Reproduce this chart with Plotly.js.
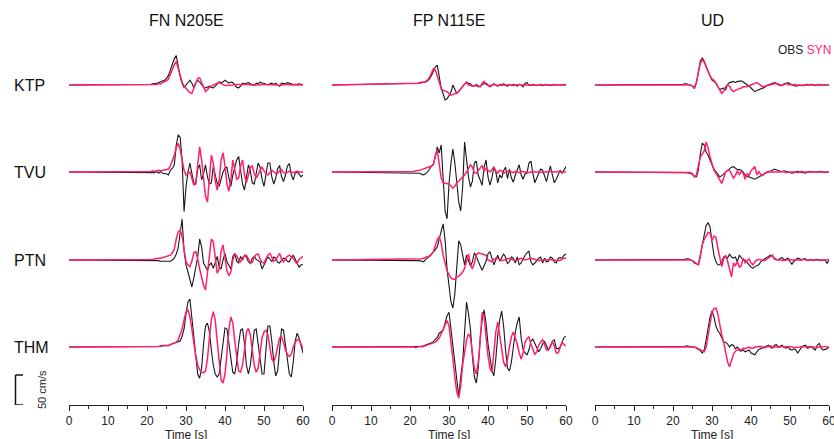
<!DOCTYPE html>
<html>
<head>
<meta charset="utf-8">
<script src="https://cdn.plot.ly/plotly-3.0.1.min.js"></script>
<style>html,body{margin:0;padding:0;background:#fff;}#chart{width:834px;height:439px;}</style>
</head>
<body>
<div id="chart"></div>
<script>
// ---------- DATA (cm/s), time grid: 0 s, then 20..60 s every 0.5 s ----------
const stations = ['KTP', 'TVU', 'PTN', 'THM'];
const components = ['FN N205E', 'FP N115E', 'UD'];
const xTicks = [0, 10, 20, 30, 40, 50, 60];
const xTitle = 'Time [s]';
const scaleBarValue = 50; // cm/s
const scaleBarLabel = '50 cm/s';

const t = [0];
for (let s = 20; s <= 60; s += 0.5) t.push(s);

const KTP_FN_OBS = [0,
 0,1,1,2,2,3,4,5,6,8,
 11,16,25,34,44,49,30,14,3,-4,
 0,5,8,3,-4,4,8,5,0,-4,
 -5,-3,-2,-4,-5,-2,1,5,4,5,
 8,6,3,5,4,0,-4,-5,-2,3,
 2,3,4,2,0,-1,3,2,5,3,
 3,1,0,2,3,1,3,0,-2,3,
 3,2,4,3,2,1,0,1,2,1,
 0];
const KTP_FN_SYN = [0,
 0,0,0,0,1,1,2,2,4,5,
 7,10,17,26,34,39,28,15,5,-2,
 -6,-10,-13,-14,-5,5,11,12,4,-5,
 -11,-8,-4,-2,0,1,3,4,2,0,
 -1,-1,-1,0,0,1,1,2,2,1,
 1,1,1,0,0,-1,-1,0,0,1,
 1,1,0,0,1,1,0,0,-1,0,
 0,1,1,0,0,0,1,0,0,0,
 0];
const TVU_FN_OBS = [0,
 0,0,0,0,-1,1,-2,1,-2,-3,
 -3,-5,3,6,12,45,62,58,20,-66,
 -25,0,15,-2,-18,-20,5,12,-13,-3,
 12,-8,-20,-18,9,-5,-18,-24,-12,0,
 6,8,-10,-24,-5,10,20,26,5,-20,
 -30,-5,12,2,-18,-20,-3,15,8,-12,
 -24,-5,15,15,-8,-20,-10,5,11,-8,
 -16,-5,10,14,-5,-13,-2,1,-3,-8,
 -5];
const TVU_FN_SYN = [0,
 0,1,1,2,1,2,3,2,3,4,
 4,5,10,18,28,40,48,38,20,3,
 -5,-3,0,-10,-22,-18,12,42,20,-15,
 -40,-50,-15,28,15,-15,-30,-15,20,32,
 10,-20,-32,-13,20,5,-12,-10,10,20,
 -5,-18,-5,8,10,-3,-10,-5,3,8,
 2,-3,-5,0,3,0,-2,-2,2,4,
 -1,-2,0,1,0,-1,0,1,0,0,
 0];
const PTN_FN_OBS = [0,
 0,0,0,0,0,-1,-1,-2,-2,-2,
 -2,-3,-2,0,3,10,20,45,68,15,
 -8,-20,-32,-45,-30,-12,5,35,22,-5,
 -11,-17,-8,-5,-14,-2,6,-12,-15,0,
 11,-3,-10,-15,6,11,-2,-5,6,0,
 8,5,-3,-6,3,6,1,-1,-3,-15,
 -8,0,5,2,-3,5,3,-4,-5,0,
 3,2,-2,-3,4,8,2,-4,-12,-8,
 -8];
const PTN_FN_SYN = [0,
 0,0,1,1,2,3,3,3,4,4,
 5,6,8,12,18,35,47,50,40,18,
 -3,-8,-11,-2,12,14,2,-15,-30,-42,
 -50,-20,15,35,30,5,-22,-15,15,25,
 5,-18,-26,-20,0,10,7,0,-3,4,
 6,8,2,-5,-4,5,9,10,2,-4,
 -5,2,8,11,3,-2,0,5,11,2,
 -3,2,6,8,5,3,-3,-6,1,4,
 6];
const THM_FN_OBS = [0,
 0,0,0,0,0,1,1,1,2,2,
 2,2,4,5,6,8,9,10,18,30,
 55,75,80,50,15,-20,-45,-52,-35,5,
 35,40,25,-5,-30,-45,-50,-45,-20,10,
 32,30,5,-25,-42,-45,-25,5,28,30,
 5,-30,-45,-30,0,28,30,5,-25,-45,
 -45,-10,35,35,10,-25,-48,-40,-5,30,
 28,5,-25,-45,-50,-25,10,23,15,0,
 -10];
const THM_FN_SYN = [0,
 0,0,0,1,1,1,1,2,2,2,
 2,3,4,5,6,8,12,20,30,45,
 58,62,50,30,5,-15,-30,-38,-42,-43,
 -40,-20,15,45,59,45,10,-30,-55,-60,
 -45,-10,30,50,40,10,-20,-40,-42,-30,
 -5,25,31,20,-5,-30,-42,-35,-10,15,
 25,28,20,0,-20,-25,-15,0,15,17,
 8,-5,-12,-16,-12,0,8,12,12,5,
 -3];

const KTP_FP_OBS = [0,
 2,2,2,3,3,3,4,4,5,7,
 10,16,22,30,33,15,-5,-15,-25,-23,
 -18,-12,0,-8,-14,-10,-6,-3,2,5,
 3,2,-2,-2,-1,-3,-3,1,2,3,
 0,-3,-1,2,0,-2,1,-1,2,0,
 -2,1,-1,1,0,-2,1,0,-3,3,
 4,0,-1,1,0,-1,1,0,-1,0,
 1,0,-1,0,1,0,0,-1,0,1,
 0];
const KTP_FP_SYN = [0,
 2,2,2,2,3,4,4,5,6,8,
 13,20,27,25,15,2,-6,-9,-10,-11,
 -14,-17,-16,-15,-13,-11,-6,-3,2,4,
 0,-1,-2,-1,1,-1,-3,3,6,1,
 -1,-2,0,1,0,-1,0,1,0,0,
 0,1,0,-1,0,0,1,0,0,1,
 0,0,1,0,-1,0,0,1,0,0,
 1,0,0,0,1,0,0,0,1,0,
 0];
const TVU_FP_OBS = [0,
 -1,-1,-1,-1,-2,-2,-4,-5,-3,0,
 5,10,14,25,42,32,45,-10,-65,-78,
 -20,15,38,15,-25,-50,-65,-25,50,20,
 -8,-25,-15,15,18,-5,-15,-22,8,20,
 -8,-22,-10,8,0,-18,-5,-10,2,8,
 -11,5,-10,-17,-5,5,12,-5,-12,-3,
 -2,15,18,-2,-18,-10,-2,5,3,-8,
 -16,-2,10,-5,-18,-12,-4,3,-2,4,
 9];
const TVU_FP_SYN = [0,
 0,1,1,2,2,3,4,5,6,7,
 9,10,12,28,36,14,-10,-18,-19,-19,
 -20,-23,-27,-24,-18,-15,-12,-9,-5,0,
 6,12,8,-1,-2,3,8,11,1,6,
 3,0,4,8,2,-2,3,2,-2,0,
 1,2,0,-1,1,0,-1,1,0,0,
 0,-1,0,1,0,0,1,0,-1,0,
 0,1,1,0,0,0,1,0,0,0,
 0];
const PTN_FP_OBS = [0,
 0,0,0,0,-1,-1,-2,-3,1,3,
 7,10,14,17,22,33,48,60,33,-15,
 -40,-70,-80,-56,-11,32,25,5,-8,8,
 0,-10,-3,12,6,-3,-10,-17,-10,-2,
 10,14,3,-8,0,8,-2,5,10,5,
 -6,-3,5,3,-5,5,-8,-5,3,8,
 12,15,-3,-8,-5,0,3,5,-5,3,
 -3,-2,5,3,-3,-5,3,4,3,8,
 10];
const PTN_FP_SYN = [0,
 1,1,1,1,1,1,2,3,5,6,
 6,9,14,24,34,39,28,8,-8,-18,
 -24,-30,-32,-32,-28,-27,-24,-20,-14,-2,
 10,-8,-15,-5,8,12,11,11,10,8,
 0,-2,-3,1,3,3,1,-1,0,0,
 2,3,1,0,-1,0,2,3,1,0,
 1,2,3,2,1,0,-1,0,0,-1,
 0,1,1,0,0,-1,-1,-1,1,3,
 3];
const THM_FP_OBS = [0,
 0,0,0,0,1,1,1,2,3,4,
 6,7,9,12,16,23,26,28,40,52,
 58,30,5,-25,-55,-82,-50,-25,25,75,
 55,30,-15,-50,-60,-35,15,45,62,40,
 5,-16,-38,-48,-20,20,45,60,35,-5,
 -35,-40,-25,0,25,40,50,15,-5,-10,
 -13,-5,10,13,5,-3,-8,-3,5,9,
 3,-5,0,10,12,-2,-3,0,8,16,
 18];
const THM_FP_SYN = [0,
 0,1,0,-1,0,1,0,1,2,3,
 4,5,6,8,11,15,22,30,37,44,
 35,10,-20,-50,-75,-85,-65,-30,-5,12,
 22,15,-10,-35,-45,-25,10,58,50,15,
 -15,-35,-42,-10,25,42,20,-5,-25,-33,
 -20,0,17,25,15,5,-10,-20,-10,8,
 14,17,5,-5,-12,-8,3,8,12,4,
 -5,-5,3,9,2,-10,-10,-2,8,4,
 2];

const KTP_UD_OBS = [0,
 0,0,0,0,1,1,2,2,0,0,
 -2,-6,3,20,40,45,40,30,22,14,
 8,6,3,-3,-8,-6,-5,-8,1,4,
 5,6,4,6,6,7,5,3,1,-2,
 -5,-8,-11,-9,-8,-7,-5,-4,-1,0,
 2,3,4,3,1,0,-1,2,3,4,
 2,0,-1,-2,-1,0,0,-1,0,1,
 0,1,0,-1,0,1,0,0,-1,0,
 0];
const KTP_UD_SYN = [0,
 0,0,0,0,0,1,1,1,0,0,
 -2,-4,5,20,36,42,38,31,22,15,
 10,8,3,-3,-8,-14,-10,-3,0,-2,
 -8,-11,-9,-7,-6,-5,-3,-3,-3,-2,
 0,1,3,4,2,0,-3,-2,-1,0,
 1,2,2,2,0,-1,0,1,2,1,
 0,0,1,0,0,0,-1,0,0,0,
 0,0,1,0,0,0,0,0,0,0,
 0];
const TVU_UD_OBS = [0,
 0,0,0,0,0,0,-1,-1,-2,-2,
 -4,-8,-8,3,30,48,45,33,28,18,
 12,5,0,-5,-8,-6,-3,0,2,6,
 8,9,6,4,4,3,0,-5,-7,-8,
 -10,-11,-12,-10,-8,-6,-4,-3,-1,0,
 1,3,5,4,3,2,0,2,1,-1,
 -2,-2,-1,0,1,0,-1,-1,-2,0,
 1,0,0,-1,0,1,0,-1,-1,0,
 0];
const TVU_UD_SYN = [0,
 0,0,0,0,0,0,0,-1,-1,-1,
 -3,-8,-5,12,25,30,35,50,40,25,
 12,3,-2,-8,-15,-19,-10,0,3,3,
 -3,-10,-6,2,-5,1,-2,-12,-3,-6,
 2,6,9,-5,1,-4,-6,-2,0,1,
 0,0,-1,0,-1,0,1,0,-1,0,
 0,1,0,0,-1,0,1,0,0,0,
 0,0,1,0,0,0,0,1,0,0,
 0];
const PTN_UD_OBS = [0,
 0,0,0,0,0,1,1,2,2,0,
 -1,-5,-7,-8,8,25,45,58,62,55,
 30,8,-3,-8,-8,-3,5,6,3,10,
 5,3,5,-3,8,3,0,0,-5,-8,
 -12,-14,-11,-10,-8,-3,0,2,4,6,
 8,7,3,1,0,3,4,0,2,3,
 -3,-7,-2,0,3,2,0,2,2,-1,
 0,1,-1,0,1,0,-1,0,0,-6,
 0];
const PTN_UD_SYN = [0,
 0,0,0,0,0,0,0,1,1,0,
 -1,-3,-6,-8,5,25,34,39,46,45,
 33,40,38,20,5,-11,2,8,-2,-14,
 -28,-5,-10,-2,-12,-10,3,-5,-2,2,
 -5,-8,-3,0,1,1,0,-1,1,3,
 6,8,1,0,0,0,-1,-1,0,1,
 1,0,0,-1,-1,0,0,1,0,0,
 0,0,-1,0,0,-1,0,0,0,0,
 1];
const THM_UD_OBS = [0,
 0,0,0,0,0,1,1,2,1,1,
 0,0,-2,-3,-6,-10,-5,12,30,50,
 60,50,35,27,23,15,8,8,5,0,
 4,3,-3,0,-6,-7,-5,-8,-6,-5,
 -10,-12,-13,-8,-4,-3,0,0,2,3,
 -1,-2,3,4,0,2,3,-1,-2,0,
 -4,-5,-3,-5,-10,-5,0,2,3,-2,
 0,1,-3,-5,3,6,-2,-5,-4,-3,
 0];
const THM_UD_SYN = [0,
 0,0,0,0,0,0,0,1,1,0,
 0,0,-1,-3,-5,-7,-8,0,18,42,
 58,64,65,55,34,20,8,-8,-25,-33,
 -22,-12,-7,-5,-3,-5,-2,-3,-2,0,
 -2,-2,0,0,1,1,-2,-1,0,2,
 2,0,0,-1,-1,0,1,0,1,1,
 0,0,-1,-1,0,0,1,0,0,1,
 1,0,0,-1,0,0,0,1,1,0,
 0];

// ---------- assemble ----------
const OBS = {
  KTP: [KTP_FN_OBS, KTP_FP_OBS, KTP_UD_OBS],
  TVU: [TVU_FN_OBS, TVU_FP_OBS, TVU_UD_OBS],
  PTN: [PTN_FN_OBS, PTN_FP_OBS, PTN_UD_OBS],
  THM: [THM_FN_OBS, THM_FP_OBS, THM_UD_OBS]
};
const SYN = {
  KTP: [KTP_FN_SYN, KTP_FP_SYN, KTP_UD_SYN],
  TVU: [TVU_FN_SYN, TVU_FP_SYN, TVU_UD_SYN],
  PTN: [PTN_FN_SYN, PTN_FP_SYN, PTN_UD_SYN],
  THM: [THM_FN_SYN, THM_FP_SYN, THM_UD_SYN]
};

const W = 834, Hh = 439;
const OBS_COLOR = '#161616';
const SYN_COLOR = '#ff1f6e';
const FONT = 'Liberation Sans, Arial, Helvetica, sans-serif';

const colPx = [[69, 303], [332, 566], [595, 829]];
const rowBasePx = [85, 172, 260, 347];
const halfPx = 58;            // half height of each row panel in px
const pxPerUnit = 30 / 50;    // 50 cm/s -> 30 px
const R = halfPx / pxPerUnit; // half range in cm/s

const traces = [];
stations.forEach((st, r) => {
  components.forEach((cp, c) => {
    const xa = c === 0 ? 'x' : 'x' + (c + 1);
    const ya = r === 0 ? 'y' : 'y' + (r + 1);
    [[OBS[st][c], OBS_COLOR, 1.1, 'OBS'], [SYN[st][c], SYN_COLOR, 1.5, 'SYN']].forEach(([arr, col, w, nm]) => {
      if (arr.length !== t.length) throw new Error(st + ' ' + cp + ' ' + nm + ' length ' + arr.length + ' != ' + t.length);
      traces.push({
        x: t, y: arr, xaxis: xa, yaxis: ya, type: 'scatter', mode: 'lines',
        line: {color: col, width: w}, name: nm, hoverinfo: 'skip', showlegend: false
      });
    });
  });
});

const layout = {
  width: W, height: Hh,
  margin: {l: 0, r: 0, t: 0, b: 0},
  paper_bgcolor: '#ffffff', plot_bgcolor: 'rgba(0,0,0,0)',
  showlegend: false,
  font: {family: FONT, color: '#222', size: 12},
  annotations: [], shapes: []
};

colPx.forEach((px, c) => {
  const key = c === 0 ? 'xaxis' : 'xaxis' + (c + 1);
  layout[key] = {
    domain: [px[0] / W, px[1] / W],
    range: [0, 60], anchor: 'y4',
    tickmode: 'array', tickvals: xTicks,
    ticks: 'outside', ticklen: 5, tickwidth: 1, tickcolor: '#222',
    ticklabeloverflow: 'allow',
    showline: true, linecolor: '#222', linewidth: 1,
    showgrid: false, zeroline: false,
    tickfont: {size: 12, color: '#222', family: FONT},
    minor: {tickmode: 'array', tickvals: [5, 15, 25, 35, 45, 55], ticks: 'outside', ticklen: 3, tickcolor: '#222', showgrid: false},
    fixedrange: true
  };
  // axis title (drawn as text below the tick labels, slightly cut by the page edge as in the original)
  layout.annotations.push({
    text: xTitle, xref: 'paper', yref: 'paper',
    x: (px[0] + px[1]) / 2 / W, y: 1 - 426 / Hh, xanchor: 'center', yanchor: 'top',
    showarrow: false, font: {size: 12, color: '#222', family: FONT}
  });
  layout.annotations.push({
    text: components[c], xref: 'paper', yref: 'paper',
    x: (px[0] + px[1]) / 2 / W, y: 1 - 21 / Hh, xanchor: 'center', yanchor: 'middle',
    showarrow: false, font: {size: 16, color: '#111', family: FONT}
  });
});

rowBasePx.forEach((b, r) => {
  const key = r === 0 ? 'yaxis' : 'yaxis' + (r + 1);
  layout[key] = {
    domain: [1 - (b + halfPx) / Hh, 1 - (b - halfPx) / Hh],
    range: [-R, R], visible: false, anchor: 'x', fixedrange: true
  };
  layout.annotations.push({
    text: stations[r], xref: 'paper', yref: r === 0 ? 'y' : 'y' + (r + 1),
    x: 12 / W, y: 0, xanchor: 'left', yanchor: 'middle',
    showarrow: false, font: {size: 16, color: '#111', family: FONT}
  });
});

// legend text
layout.annotations.push({
  text: 'OBS <span style="color:' + SYN_COLOR + '">SYN</span>',
  xref: 'paper', yref: 'paper', x: 833 / W, y: 1 - 50 / Hh,
  xanchor: 'right', yanchor: 'middle', showarrow: false,
  font: {size: 12, color: '#222', family: FONT}
});

// scale bar (in THM row units)
const sbX = 15.5 / W, sbArm = 23 / W;
const yb = -R, yt = -R + scaleBarValue;
layout.shapes.push(
  {type: 'line', xref: 'paper', yref: 'y4', x0: sbX, x1: sbX, y0: yb, y1: yt, line: {color: '#111', width: 1.5}},
  {type: 'line', xref: 'paper', yref: 'y4', x0: sbX, x1: sbArm, y0: yt, y1: yt, line: {color: '#111', width: 1.5}},
  {type: 'line', xref: 'paper', yref: 'y4', x0: sbX, x1: sbArm, y0: yb, y1: yb, line: {color: '#111', width: 1.5}}
);
layout.annotations.push({
  text: scaleBarLabel, xref: 'paper', yref: 'y4',
  x: 42 / W, y: (yb + yt) / 2, textangle: -90,
  xanchor: 'center', yanchor: 'middle', showarrow: false,
  font: {size: 11, color: '#222', family: FONT}
});

Plotly.newPlot('chart', traces, layout, {staticPlot: true, displayModeBar: false});
</script>
</body>
</html>
